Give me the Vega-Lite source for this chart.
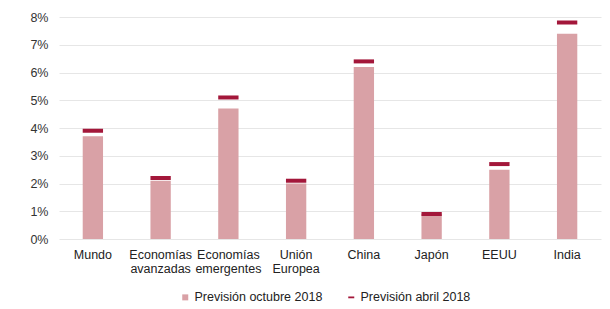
{
  "$schema": "https://vega.github.io/schema/vega-lite/v6.json",
  "width": 542,
  "height": 222,
  "autosize": {"type": "none"},
  "padding": {"left": 59, "top": 17, "right": 9, "bottom": 70},
  "background": "white",
  "data": {
    "values": [
      {"region": "Mundo", "oct": 3.7, "abr": 3.9},
      {"region": "Economías|avanzadas", "oct": 2.1, "abr": 2.2},
      {"region": "Economías|emergentes", "oct": 4.7, "abr": 5.1},
      {"region": "Unión|Europea", "oct": 2.0, "abr": 2.1},
      {"region": "China", "oct": 6.2, "abr": 6.4},
      {"region": "Japón", "oct": 0.9, "abr": 0.9},
      {"region": "EEUU", "oct": 2.5, "abr": 2.7},
      {"region": "India", "oct": 7.4, "abr": 7.8}
    ]
  },
  "transform": [
    {"fold": ["oct", "abr"], "as": ["key", "val"]},
    {"lookup": "key", "from": {"data": {"values": [{"key": "oct", "serie": "Previsión octubre 2018"}, {"key": "abr", "serie": "Previsión abril 2018"}]}, "key": "key", "fields": ["serie"]}}
  ],
  "encoding": {
    "x": {
      "field": "region",
      "type": "nominal",
      "sort": null,
      "scale": {"paddingInner": 0.7, "paddingOuter": 0.35},
      "axis": {
        "title": null,
        "labelAngle": 0,
        "labelExpr": "split(datum.value, '|')",
        "labelFont": "Liberation Sans",
        "labelFontSize": 12.5,
        "labelColor": "#222222",
        "labelPadding": 9,
        "labelLineHeight": 14,
        "ticks": false,
        "domain": false,
        "grid": false
      }
    },
    "y": {
      "field": "val",
      "type": "quantitative",
      "scale": {"domain": [0, 8]},
      "axis": {
        "title": null,
        "values": [0, 1, 2, 3, 4, 5, 6, 7, 8],
        "labelExpr": "datum.value + '%'",
        "labelFont": "Liberation Sans",
        "labelFontSize": 12.5,
        "labelColor": "#333333",
        "labelPadding": 11,
        "ticks": false,
        "domain": false,
        "gridColor": "#e6e6e6",
        "gridWidth": 1
      }
    },
    "color": {
      "field": "serie",
      "type": "nominal",
      "scale": {"domain": ["Previsión octubre 2018", "Previsión abril 2018"], "range": ["#d9a1a6", "#a3173a"]},
      "legend": {
        "title": null,
        "orient": "none",
        "direction": "horizontal",
        "legendX": 120,
        "legendY": 274,
        "labelFont": "Liberation Sans",
        "labelFontSize": 12.5,
        "labelColor": "#222222",
        "columnPadding": 22,
        "symbolSize": 36,
        "labelOffset": 3,
        "encode": {
          "symbols": {
            "update": {
              "shape": {"signal": "datum.value === 'Previsión abril 2018' ? 'M-1,-0.3H1V0.3H-1Z' : 'square'"},
              "strokeWidth": {"value": 0}
            }
          }
        }
      }
    }
  },
  "layer": [
    {
      "transform": [{"filter": "datum.key === 'oct'"}],
      "mark": {"type": "bar"}
    },
    {
      "transform": [{"filter": "datum.key === 'abr'"}],
      "mark": {"type": "tick", "thickness": 4, "bandSize": 18, "opacity": 1}
    }
  ],
  "config": {"view": {"stroke": null}}
}
